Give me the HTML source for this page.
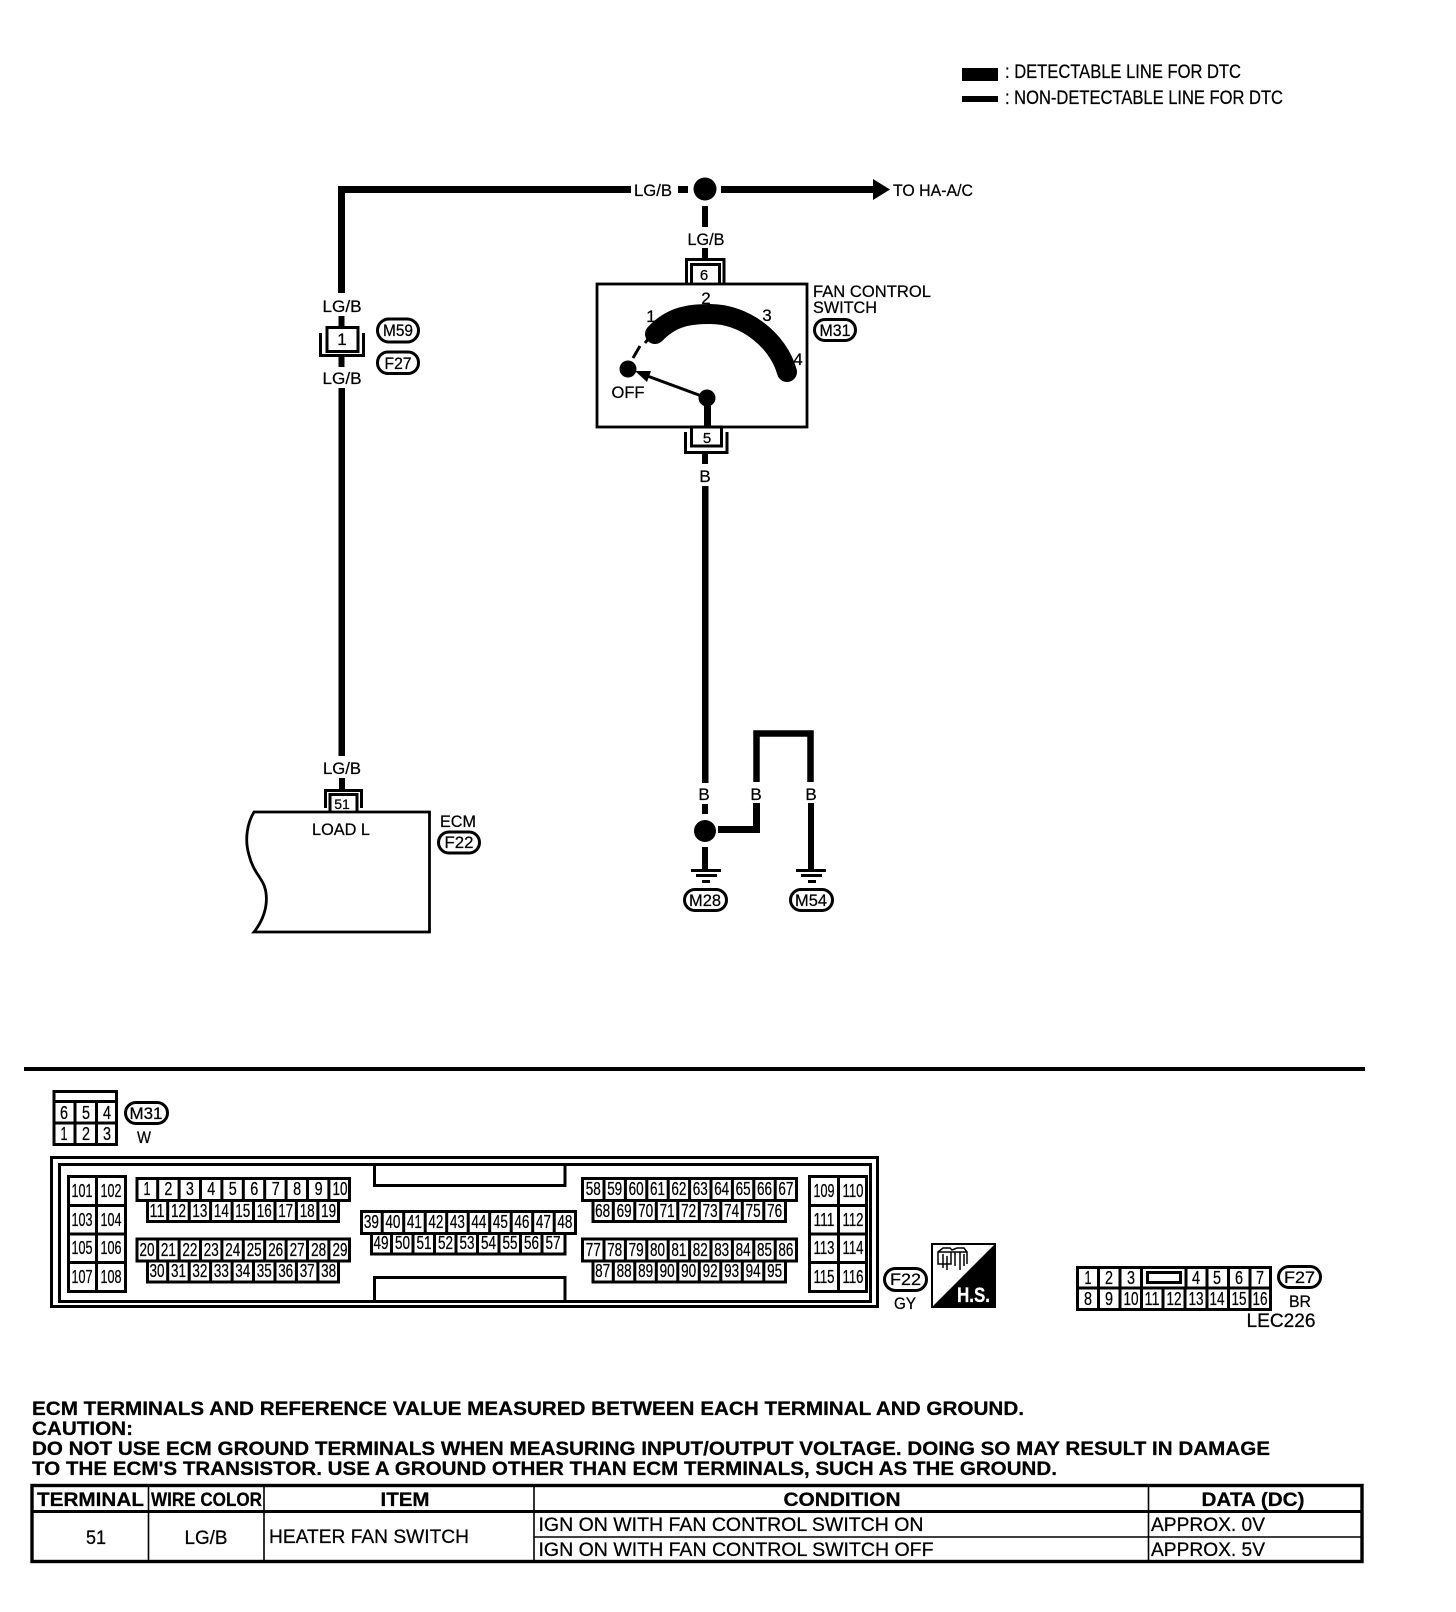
<!DOCTYPE html>
<html><head><meta charset="utf-8"><style>
html,body{margin:0;padding:0;background:#fff;width:1456px;height:1612px;overflow:hidden}
svg{display:block}
text{font-family:"Liberation Sans",sans-serif;fill:#000;stroke:#000;stroke-width:.25px}
.l{font-size:17px}
.c{text-anchor:middle}
.n text{font-size:18px;text-anchor:middle}
.b{font-weight:bold;font-size:19px}
.t{font-size:19px}
.g{fill:none;stroke:#000;stroke-width:3}
</style></head><body>
<svg width="1456" height="1612" viewBox="0 0 1456 1612" xmlns="http://www.w3.org/2000/svg">
<defs>
<path id="ra" d="M137 0H349.5V22H137ZM157.7 0V22M179.1 0V22M200.5 0V22M221.9 0V22M243.3 0V22M264.7 0V22M286.1 0V22M307.5 0V22M328.9 0V22" class="g"/>
<path id="rb" d="M147.5 0H338.5V21H147.5ZM167.7 0V21M189.2 0V21M210.6 0V21M232.1 0V21M253.5 0V21M275 0V21M296.4 0V21M317.9 0V21" class="g"/>
<path id="rc" d="M582.5 0H796.5V22H582.5ZM604 0V22M625.4 0V22M646.8 0V22M668.2 0V22M689.6 0V22M711 0V22M732.4 0V22M753.8 0V22M775.2 0V22" class="g"/>
<path id="rd" d="M593 0H785.5V21H593ZM613.3 0V21M634.8 0V21M656.3 0V21M677.8 0V21M699.3 0V21M720.8 0V21M742.3 0V21M763.8 0V21" class="g"/>
</defs>

<!-- legend -->
<rect x="962" y="68" width="36" height="13"/>
<rect x="962" y="96" width="36" height="6"/>
<text class="t" x="1005" y="78" textLength="236" lengthAdjust="spacingAndGlyphs">: DETECTABLE LINE FOR DTC</text>
<text class="t" x="1005" y="104" textLength="278" lengthAdjust="spacingAndGlyphs">: NON-DETECTABLE LINE FOR DTC</text>

<!-- top wire -->
<path d="M341.5 293V189.5H631" fill="none" stroke="#000" stroke-width="7"/>
<text class="l" x="634" y="196" textLength="38" lengthAdjust="spacingAndGlyphs">LG/B</text>
<rect x="678" y="186" width="10" height="7"/>
<circle cx="705" cy="189" r="11.5"/>
<rect x="721" y="186" width="155" height="7"/>
<path d="M873 179L890 189.5L873 200Z"/>
<text class="l" x="893" y="196" textLength="80" lengthAdjust="spacingAndGlyphs">TO HA-A/C</text>

<!-- left wire with M59/F27 connector -->
<text class="l c" x="342" y="312" textLength="39" lengthAdjust="spacingAndGlyphs">LG/B</text>
<rect x="338.5" y="316" width="6" height="10"/>
<rect x="327" y="327.5" width="31" height="24" fill="#fff" stroke="#000" stroke-width="3"/>
<path d="M320.5 333V355.5H363.5V333" fill="none" stroke="#000" stroke-width="3"/>
<text class="l c" x="342" y="345" font-size="16">1</text>
<rect x="377.5" y="319" width="41" height="23" rx="11.5" fill="#fff" stroke="#000" stroke-width="3"/>
<text class="l c" x="398" y="336" textLength="30" lengthAdjust="spacingAndGlyphs">M59</text>
<rect x="377.5" y="352" width="41" height="21.5" rx="10.5" fill="#fff" stroke="#000" stroke-width="3"/>
<text class="l c" x="398" y="369" textLength="27" lengthAdjust="spacingAndGlyphs">F27</text>
<rect x="338.5" y="357" width="6" height="10"/>
<text class="l c" x="342" y="384" textLength="39" lengthAdjust="spacingAndGlyphs">LG/B</text>
<rect x="338.5" y="388" width="6.5" height="368"/>
<text class="l c" x="342" y="774" textLength="38" lengthAdjust="spacingAndGlyphs">LG/B</text>
<rect x="339" y="778" width="6" height="11"/>

<!-- ECM -->
<path d="M325.5 808V790.5H361.5V808" fill="none" stroke="#000" stroke-width="3"/>
<rect x="330" y="794.5" width="27" height="18" fill="#fff" stroke="#000" stroke-width="3"/>
<text x="342" y="809" class="c" font-size="14">51</text>
<path d="M254 812H429.5V932H254C262 922 268 908 266 893C264 878 254 875 249 855C244 838 248 822 254 812Z" fill="#fff" stroke="#000" stroke-width="2.8"/>
<text class="l c" x="341" y="835" textLength="58" lengthAdjust="spacingAndGlyphs">LOAD L</text>
<text class="l c" x="458" y="827" textLength="36" lengthAdjust="spacingAndGlyphs">ECM</text>
<rect x="438.5" y="832" width="41" height="21" rx="10.5" fill="#fff" stroke="#000" stroke-width="3"/>
<text class="l c" x="459" y="848" textLength="29" lengthAdjust="spacingAndGlyphs">F22</text>

<!-- switch connector 6 -->
<rect x="702" y="206" width="6" height="21"/>
<text class="l c" x="706" y="245" textLength="37" lengthAdjust="spacingAndGlyphs">LG/B</text>
<rect x="702" y="248" width="6" height="11"/>
<path d="M686.5 283V259.5H724V283" fill="none" stroke="#000" stroke-width="3"/>
<rect x="691.5" y="264.5" width="28" height="20" fill="#fff" stroke="#000" stroke-width="3"/>
<text x="704" y="280" class="c" font-size="15">6</text>

<!-- switch box -->
<rect x="597" y="284" width="210" height="143" fill="#fff" stroke="#000" stroke-width="2.8"/>
<path d="M655 334C672 316 690 314 710 314C745 314 778 340 787 372" fill="none" stroke="#000" stroke-width="20" stroke-linecap="round"/>
<path d="M649 338L645 343M640 346L633 358" fill="none" stroke="#000" stroke-width="3"/>
<circle cx="628" cy="369" r="8.5"/>
<path d="M707 398L642 374" fill="none" stroke="#000" stroke-width="3"/>
<path d="M635 371L651 371L647 382Z"/>
<circle cx="707" cy="398" r="8.5"/>
<rect x="704" y="398" width="7" height="30"/>
<text x="651" y="322" class="l c">1</text>
<text x="706" y="304" class="l c">2</text>
<text x="767" y="321" class="l c">3</text>
<text x="798" y="365" class="l c">4</text>
<text x="628" y="398" class="l c" textLength="33" lengthAdjust="spacingAndGlyphs">OFF</text>
<text x="813" y="297" class="l" textLength="118" lengthAdjust="spacingAndGlyphs">FAN CONTROL</text>
<text x="813" y="313" class="l" textLength="64" lengthAdjust="spacingAndGlyphs">SWITCH</text>
<rect x="814.5" y="319.5" width="41" height="21" rx="10.5" fill="#fff" stroke="#000" stroke-width="3"/>
<text class="l c" x="835" y="336" textLength="31" lengthAdjust="spacingAndGlyphs">M31</text>

<!-- connector 5 -->
<rect x="691.5" y="427" width="30" height="19" fill="#fff" stroke="#000" stroke-width="3"/>
<path d="M685.5 432V452.5H727V432" fill="none" stroke="#000" stroke-width="3"/>
<text x="707" y="443" class="c" font-size="15">5</text>
<rect x="702" y="454" width="6" height="10"/>
<text x="705" y="482" class="l c">B</text>
<rect x="702" y="486" width="6.5" height="297"/>
<text x="704" y="800" class="l c">B</text>
<rect x="702" y="804" width="6" height="10"/>
<circle cx="705" cy="831" r="11"/>
<rect x="702" y="847" width="6" height="23"/>
<rect x="691" y="869" width="30" height="3"/>
<rect x="696" y="874" width="21" height="3"/>
<rect x="702" y="880" width="8" height="3"/>
<rect x="684.5" y="889.5" width="42" height="21" rx="10.5" fill="#fff" stroke="#000" stroke-width="3"/>
<text class="l c" x="705" y="906" textLength="32" lengthAdjust="spacingAndGlyphs">M28</text>

<path d="M718 829.5H756.5V803" fill="none" stroke="#000" stroke-width="7"/>
<text x="756" y="800" class="l c">B</text>
<path d="M756.5 782V733.5H810.5V782" fill="none" stroke="#000" stroke-width="6.5"/>
<text x="811" y="800" class="l c">B</text>
<rect x="808" y="803" width="6" height="67"/>
<rect x="796" y="869" width="30" height="3"/>
<rect x="801" y="874" width="21" height="3"/>
<rect x="808" y="880" width="8" height="3"/>
<rect x="790.5" y="889.5" width="42" height="21" rx="10.5" fill="#fff" stroke="#000" stroke-width="3"/>
<text class="l c" x="811" y="906" textLength="32" lengthAdjust="spacingAndGlyphs">M54</text>

<!-- rule -->
<rect x="24" y="1067" width="1341" height="4"/>

<!-- small connector M31 -->
<path d="M54 1091.5H116.5V1144.5H54ZM54 1101.5H116.5M54 1123H116.5M75 1101.5V1144.5M96.5 1101.5V1144.5" class="g"/>
<g class="n">
<text x="64" y="1119" textLength="8" lengthAdjust="spacingAndGlyphs">6</text>
<text x="86" y="1119" textLength="8" lengthAdjust="spacingAndGlyphs">5</text>
<text x="107" y="1119" textLength="8" lengthAdjust="spacingAndGlyphs">4</text>
<text x="64" y="1140" textLength="7" lengthAdjust="spacingAndGlyphs">1</text>
<text x="86" y="1140" textLength="8" lengthAdjust="spacingAndGlyphs">2</text>
<text x="107" y="1140" textLength="8" lengthAdjust="spacingAndGlyphs">3</text>
</g>
<rect x="125.5" y="1102.5" width="42" height="21" rx="10.5" fill="#fff" stroke="#000" stroke-width="3"/>
<text class="l c" x="146" y="1119" textLength="33" lengthAdjust="spacingAndGlyphs">M31</text>
<text class="l c" x="144" y="1143" textLength="14" lengthAdjust="spacingAndGlyphs">W</text>

<!-- ECM connector -->
<rect x="51.5" y="1157.5" width="826" height="149" fill="none" stroke="#000" stroke-width="3"/>
<rect x="59.5" y="1164.5" width="811" height="137" fill="none" stroke="#000" stroke-width="3"/>
<path d="M374.5 1164V1185.5H565V1164M374.5 1301V1277.5H565V1301" class="g"/>
<path d="M68.5 1176.5H125.5V1291.5H68.5ZM96.5 1176.5V1291.5M68.5 1205.5H125.5M68.5 1234H125.5M68.5 1262.5H125.5" class="g"/>
<path d="M809.5 1176.5H866.5V1291.5H809.5ZM838.5 1176.5V1291.5M809.5 1205.5H866.5M809.5 1234H866.5M809.5 1262.5H866.5" class="g"/>
<use href="#ra" y="1178.5"/>
<use href="#rb" y="1200.5"/>
<use href="#ra" y="1239"/>
<use href="#rb" y="1261"/>
<use href="#rc" y="1178.5"/>
<use href="#rd" y="1200.5"/>
<use href="#rc" y="1239"/>
<use href="#rd" y="1261"/>
<path d="M361.5 1211.5H575.5V1233.5H361.5ZM382.2 1211.5V1233.5M403.7 1211.5V1233.5M425.2 1211.5V1233.5M446.7 1211.5V1233.5M468.2 1211.5V1233.5M489.7 1211.5V1233.5M511.2 1211.5V1233.5M532.7 1211.5V1233.5M554.2 1211.5V1233.5" class="g"/>
<path d="M371.5 1233.5H565V1254H371.5ZM391.5 1233.5V1254M413 1233.5V1254M434.5 1233.5V1254M456 1233.5V1254M477.5 1233.5V1254M499 1233.5V1254M520.5 1233.5V1254M542 1233.5V1254" class="g"/>

<g class="n">
<text x="82" y="1197" textLength="21" lengthAdjust="spacingAndGlyphs">101</text><text x="111" y="1197" textLength="21" lengthAdjust="spacingAndGlyphs">102</text>
<text x="82" y="1226" textLength="21" lengthAdjust="spacingAndGlyphs">103</text><text x="111" y="1226" textLength="21" lengthAdjust="spacingAndGlyphs">104</text>
<text x="82" y="1254" textLength="21" lengthAdjust="spacingAndGlyphs">105</text><text x="111" y="1254" textLength="21" lengthAdjust="spacingAndGlyphs">106</text>
<text x="82" y="1283" textLength="21" lengthAdjust="spacingAndGlyphs">107</text><text x="111" y="1283" textLength="21" lengthAdjust="spacingAndGlyphs">108</text>
<text x="824" y="1197" textLength="21" lengthAdjust="spacingAndGlyphs">109</text><text x="853" y="1197" textLength="21" lengthAdjust="spacingAndGlyphs">110</text>
<text x="824" y="1226" textLength="21" lengthAdjust="spacingAndGlyphs">111</text><text x="853" y="1226" textLength="21" lengthAdjust="spacingAndGlyphs">112</text>
<text x="824" y="1254" textLength="21" lengthAdjust="spacingAndGlyphs">113</text><text x="853" y="1254" textLength="21" lengthAdjust="spacingAndGlyphs">114</text>
<text x="824" y="1283" textLength="21" lengthAdjust="spacingAndGlyphs">115</text><text x="853" y="1283" textLength="21" lengthAdjust="spacingAndGlyphs">116</text>

<text x="147" y="1195" textLength="7" lengthAdjust="spacingAndGlyphs">1</text><text x="168.4" y="1195" textLength="8" lengthAdjust="spacingAndGlyphs">2</text><text x="189.9" y="1195" textLength="8" lengthAdjust="spacingAndGlyphs">3</text><text x="211.3" y="1195" textLength="8" lengthAdjust="spacingAndGlyphs">4</text><text x="232.8" y="1195" textLength="8" lengthAdjust="spacingAndGlyphs">5</text><text x="254.2" y="1195" textLength="8" lengthAdjust="spacingAndGlyphs">6</text><text x="275.7" y="1195" textLength="8" lengthAdjust="spacingAndGlyphs">7</text><text x="297.1" y="1195" textLength="8" lengthAdjust="spacingAndGlyphs">8</text><text x="318.6" y="1195" textLength="8" lengthAdjust="spacingAndGlyphs">9</text><text x="340" y="1195" textLength="15" lengthAdjust="spacingAndGlyphs">10</text>

<text x="157" y="1217" textLength="15" lengthAdjust="spacingAndGlyphs">11</text><text x="178.5" y="1217" textLength="15" lengthAdjust="spacingAndGlyphs">12</text><text x="199.9" y="1217" textLength="15" lengthAdjust="spacingAndGlyphs">13</text><text x="221.4" y="1217" textLength="15" lengthAdjust="spacingAndGlyphs">14</text><text x="242.8" y="1217" textLength="15" lengthAdjust="spacingAndGlyphs">15</text><text x="264.3" y="1217" textLength="15" lengthAdjust="spacingAndGlyphs">16</text><text x="285.7" y="1217" textLength="15" lengthAdjust="spacingAndGlyphs">17</text><text x="307.2" y="1217" textLength="15" lengthAdjust="spacingAndGlyphs">18</text><text x="328.6" y="1217" textLength="15" lengthAdjust="spacingAndGlyphs">19</text>

<text x="147" y="1256" textLength="15" lengthAdjust="spacingAndGlyphs">20</text><text x="168.4" y="1256" textLength="15" lengthAdjust="spacingAndGlyphs">21</text><text x="189.9" y="1256" textLength="15" lengthAdjust="spacingAndGlyphs">22</text><text x="211.3" y="1256" textLength="15" lengthAdjust="spacingAndGlyphs">23</text><text x="232.8" y="1256" textLength="15" lengthAdjust="spacingAndGlyphs">24</text><text x="254.2" y="1256" textLength="15" lengthAdjust="spacingAndGlyphs">25</text><text x="275.7" y="1256" textLength="15" lengthAdjust="spacingAndGlyphs">26</text><text x="297.1" y="1256" textLength="15" lengthAdjust="spacingAndGlyphs">27</text><text x="318.6" y="1256" textLength="15" lengthAdjust="spacingAndGlyphs">28</text><text x="340" y="1256" textLength="15" lengthAdjust="spacingAndGlyphs">29</text>

<text x="157" y="1277" textLength="15" lengthAdjust="spacingAndGlyphs">30</text><text x="178.5" y="1277" textLength="15" lengthAdjust="spacingAndGlyphs">31</text><text x="199.9" y="1277" textLength="15" lengthAdjust="spacingAndGlyphs">32</text><text x="221.4" y="1277" textLength="15" lengthAdjust="spacingAndGlyphs">33</text><text x="242.8" y="1277" textLength="15" lengthAdjust="spacingAndGlyphs">34</text><text x="264.3" y="1277" textLength="15" lengthAdjust="spacingAndGlyphs">35</text><text x="285.7" y="1277" textLength="15" lengthAdjust="spacingAndGlyphs">36</text><text x="307.2" y="1277" textLength="15" lengthAdjust="spacingAndGlyphs">37</text><text x="328.6" y="1277" textLength="15" lengthAdjust="spacingAndGlyphs">38</text>

<text x="371.4" y="1228" textLength="15" lengthAdjust="spacingAndGlyphs">39</text><text x="392.9" y="1228" textLength="15" lengthAdjust="spacingAndGlyphs">40</text><text x="414.4" y="1228" textLength="15" lengthAdjust="spacingAndGlyphs">41</text><text x="435.9" y="1228" textLength="15" lengthAdjust="spacingAndGlyphs">42</text><text x="457.4" y="1228" textLength="15" lengthAdjust="spacingAndGlyphs">43</text><text x="478.9" y="1228" textLength="15" lengthAdjust="spacingAndGlyphs">44</text><text x="500.4" y="1228" textLength="15" lengthAdjust="spacingAndGlyphs">45</text><text x="521.9" y="1228" textLength="15" lengthAdjust="spacingAndGlyphs">46</text><text x="543.4" y="1228" textLength="15" lengthAdjust="spacingAndGlyphs">47</text><text x="564.9" y="1228" textLength="15" lengthAdjust="spacingAndGlyphs">48</text>

<text x="381" y="1249" textLength="15" lengthAdjust="spacingAndGlyphs">49</text><text x="402.5" y="1249" textLength="15" lengthAdjust="spacingAndGlyphs">50</text><text x="424" y="1249" textLength="15" lengthAdjust="spacingAndGlyphs">51</text><text x="445.5" y="1249" textLength="15" lengthAdjust="spacingAndGlyphs">52</text><text x="467" y="1249" textLength="15" lengthAdjust="spacingAndGlyphs">53</text><text x="488.5" y="1249" textLength="15" lengthAdjust="spacingAndGlyphs">54</text><text x="510" y="1249" textLength="15" lengthAdjust="spacingAndGlyphs">55</text><text x="531.5" y="1249" textLength="15" lengthAdjust="spacingAndGlyphs">56</text><text x="553" y="1249" textLength="15" lengthAdjust="spacingAndGlyphs">57</text>

<text x="593.3" y="1195" textLength="15" lengthAdjust="spacingAndGlyphs">58</text><text x="614.7" y="1195" textLength="15" lengthAdjust="spacingAndGlyphs">59</text><text x="636.1" y="1195" textLength="15" lengthAdjust="spacingAndGlyphs">60</text><text x="657.5" y="1195" textLength="15" lengthAdjust="spacingAndGlyphs">61</text><text x="678.9" y="1195" textLength="15" lengthAdjust="spacingAndGlyphs">62</text><text x="700.3" y="1195" textLength="15" lengthAdjust="spacingAndGlyphs">63</text><text x="721.7" y="1195" textLength="15" lengthAdjust="spacingAndGlyphs">64</text><text x="743.1" y="1195" textLength="15" lengthAdjust="spacingAndGlyphs">65</text><text x="764.5" y="1195" textLength="15" lengthAdjust="spacingAndGlyphs">66</text><text x="785.9" y="1195" textLength="15" lengthAdjust="spacingAndGlyphs">67</text>

<text x="602.6" y="1217" textLength="15" lengthAdjust="spacingAndGlyphs">68</text><text x="624.1" y="1217" textLength="15" lengthAdjust="spacingAndGlyphs">69</text><text x="645.6" y="1217" textLength="15" lengthAdjust="spacingAndGlyphs">70</text><text x="667.1" y="1217" textLength="15" lengthAdjust="spacingAndGlyphs">71</text><text x="688.6" y="1217" textLength="15" lengthAdjust="spacingAndGlyphs">72</text><text x="710.1" y="1217" textLength="15" lengthAdjust="spacingAndGlyphs">73</text><text x="731.6" y="1217" textLength="15" lengthAdjust="spacingAndGlyphs">74</text><text x="753.1" y="1217" textLength="15" lengthAdjust="spacingAndGlyphs">75</text><text x="774.6" y="1217" textLength="15" lengthAdjust="spacingAndGlyphs">76</text>

<text x="593.3" y="1256" textLength="15" lengthAdjust="spacingAndGlyphs">77</text><text x="614.7" y="1256" textLength="15" lengthAdjust="spacingAndGlyphs">78</text><text x="636.1" y="1256" textLength="15" lengthAdjust="spacingAndGlyphs">79</text><text x="657.5" y="1256" textLength="15" lengthAdjust="spacingAndGlyphs">80</text><text x="678.9" y="1256" textLength="15" lengthAdjust="spacingAndGlyphs">81</text><text x="700.3" y="1256" textLength="15" lengthAdjust="spacingAndGlyphs">82</text><text x="721.7" y="1256" textLength="15" lengthAdjust="spacingAndGlyphs">83</text><text x="743.1" y="1256" textLength="15" lengthAdjust="spacingAndGlyphs">84</text><text x="764.5" y="1256" textLength="15" lengthAdjust="spacingAndGlyphs">85</text><text x="785.9" y="1256" textLength="15" lengthAdjust="spacingAndGlyphs">86</text>

<text x="602.6" y="1277" textLength="15" lengthAdjust="spacingAndGlyphs">87</text><text x="624.1" y="1277" textLength="15" lengthAdjust="spacingAndGlyphs">88</text><text x="645.6" y="1277" textLength="15" lengthAdjust="spacingAndGlyphs">89</text><text x="667.1" y="1277" textLength="15" lengthAdjust="spacingAndGlyphs">90</text><text x="688.6" y="1277" textLength="15" lengthAdjust="spacingAndGlyphs">90</text><text x="710.1" y="1277" textLength="15" lengthAdjust="spacingAndGlyphs">92</text><text x="731.6" y="1277" textLength="15" lengthAdjust="spacingAndGlyphs">93</text><text x="753.1" y="1277" textLength="15" lengthAdjust="spacingAndGlyphs">94</text><text x="774.6" y="1277" textLength="15" lengthAdjust="spacingAndGlyphs">95</text>
</g>

<!-- F22 -->
<rect x="884.5" y="1268.5" width="42" height="22" rx="11" fill="#fff" stroke="#000" stroke-width="3"/>
<text class="l c" x="905.5" y="1285" textLength="31" lengthAdjust="spacingAndGlyphs">F22</text>
<text class="l c" x="905" y="1309" textLength="22" lengthAdjust="spacingAndGlyphs">GY</text>

<!-- H.S. -->
<rect x="932" y="1244" width="63" height="63" fill="#fff" stroke="#000" stroke-width="2"/>
<path d="M996 1243V1308H931Z"/>
<path d="M938 1252L943 1248H950L952 1250L957 1248H964L967 1252V1264M938 1252H951V1264H938ZM951 1252H967M955 1252V1266M960 1252V1270M943 1254V1268M947 1256V1270M964 1254V1266" fill="none" stroke="#000" stroke-width="1.5"/>
<text x="973.5" y="1302" text-anchor="middle" font-weight="bold" font-size="21" textLength="33" lengthAdjust="spacingAndGlyphs" style="fill:#fff;stroke:#fff">H.S.</text>

<!-- F27 connector -->
<path d="M1077.5 1267.5H1270.5V1309.5H1077.5ZM1077.5 1288H1270.5M1098.5 1267.5V1309.5M1120 1267.5V1309.5M1141.5 1267.5V1309.5M1186 1267.5V1288M1163 1288V1309.5M1185 1288V1309.5M1207 1267.5V1309.5M1228.5 1267.5V1309.5M1250 1267.5V1309.5" class="g"/>
<rect x="1147.5" y="1272.5" width="33" height="10" fill="#fff" stroke="#000" stroke-width="3"/>
<g class="n">
<text x="1088" y="1284" textLength="7" lengthAdjust="spacingAndGlyphs">1</text><text x="1109" y="1284" textLength="8" lengthAdjust="spacingAndGlyphs">2</text><text x="1131" y="1284" textLength="8" lengthAdjust="spacingAndGlyphs">3</text><text x="1196" y="1284" textLength="8" lengthAdjust="spacingAndGlyphs">4</text><text x="1217" y="1284" textLength="8" lengthAdjust="spacingAndGlyphs">5</text><text x="1239" y="1284" textLength="8" lengthAdjust="spacingAndGlyphs">6</text><text x="1260" y="1284" textLength="8" lengthAdjust="spacingAndGlyphs">7</text>
<text x="1088" y="1305" textLength="8" lengthAdjust="spacingAndGlyphs">8</text><text x="1109" y="1305" textLength="8" lengthAdjust="spacingAndGlyphs">9</text><text x="1131" y="1305" textLength="15" lengthAdjust="spacingAndGlyphs">10</text><text x="1152" y="1305" textLength="15" lengthAdjust="spacingAndGlyphs">11</text><text x="1174" y="1305" textLength="15" lengthAdjust="spacingAndGlyphs">12</text><text x="1196" y="1305" textLength="15" lengthAdjust="spacingAndGlyphs">13</text><text x="1217" y="1305" textLength="15" lengthAdjust="spacingAndGlyphs">14</text><text x="1239" y="1305" textLength="15" lengthAdjust="spacingAndGlyphs">15</text><text x="1260" y="1305" textLength="15" lengthAdjust="spacingAndGlyphs">16</text>
</g>
<rect x="1278.5" y="1266.5" width="42" height="21" rx="10.5" fill="#fff" stroke="#000" stroke-width="3"/>
<text class="l c" x="1299.5" y="1283" textLength="31" lengthAdjust="spacingAndGlyphs">F27</text>
<text class="l c" x="1300" y="1307" textLength="22" lengthAdjust="spacingAndGlyphs">BR</text>
<text class="c" x="1281" y="1327" font-size="19" textLength="69" lengthAdjust="spacingAndGlyphs">LEC226</text>

<!-- notes -->
<text class="b" x="32" y="1415" textLength="992" lengthAdjust="spacingAndGlyphs">ECM TERMINALS AND REFERENCE VALUE MEASURED BETWEEN EACH TERMINAL AND GROUND.</text>
<text class="b" x="32" y="1435" textLength="101" lengthAdjust="spacingAndGlyphs">CAUTION:</text>
<text class="b" x="32" y="1455" textLength="1238" lengthAdjust="spacingAndGlyphs">DO NOT USE ECM GROUND TERMINALS WHEN MEASURING INPUT/OUTPUT VOLTAGE. DOING SO MAY RESULT IN DAMAGE</text>
<text class="b" x="32" y="1475" textLength="1025" lengthAdjust="spacingAndGlyphs">TO THE ECM'S TRANSISTOR. USE A GROUND OTHER THAN ECM TERMINALS, SUCH AS THE GROUND.</text>

<!-- table -->
<rect x="32" y="1485.5" width="1330" height="76" fill="none" stroke="#000" stroke-width="3.4"/>
<rect x="32" y="1510" width="1330" height="3"/>
<path d="M148.5 1485V1562M264 1485V1562M534 1485V1562M1148.5 1485V1562M534 1537H1362" fill="none" stroke="#000" stroke-width="1.6"/>
<text class="b" x="37" y="1506" textLength="107" lengthAdjust="spacingAndGlyphs">TERMINAL</text>
<text class="b" x="151" y="1506" textLength="111" lengthAdjust="spacingAndGlyphs">WIRE COLOR</text>
<text class="b c" x="405" y="1506" textLength="49" lengthAdjust="spacingAndGlyphs">ITEM</text>
<text class="b c" x="842" y="1506" textLength="117" lengthAdjust="spacingAndGlyphs">CONDITION</text>
<text class="b c" x="1253" y="1506" textLength="103" lengthAdjust="spacingAndGlyphs">DATA (DC)</text>
<text x="96" y="1544" class="c" font-size="19" textLength="20" lengthAdjust="spacingAndGlyphs">51</text>
<text x="206" y="1544" class="c" font-size="19" textLength="43" lengthAdjust="spacingAndGlyphs">LG/B</text>
<text x="269" y="1543" font-size="19" textLength="200" lengthAdjust="spacingAndGlyphs">HEATER FAN SWITCH</text>
<text x="538.5" y="1531" font-size="19" textLength="385" lengthAdjust="spacingAndGlyphs">IGN ON WITH FAN CONTROL SWITCH ON</text>
<text x="538.5" y="1556" font-size="19" textLength="395" lengthAdjust="spacingAndGlyphs">IGN ON WITH FAN CONTROL SWITCH OFF</text>
<text x="1151" y="1531" font-size="19" textLength="114" lengthAdjust="spacingAndGlyphs">APPROX. 0V</text>
<text x="1151" y="1556" font-size="19" textLength="114" lengthAdjust="spacingAndGlyphs">APPROX. 5V</text>
</svg>
</body></html>
